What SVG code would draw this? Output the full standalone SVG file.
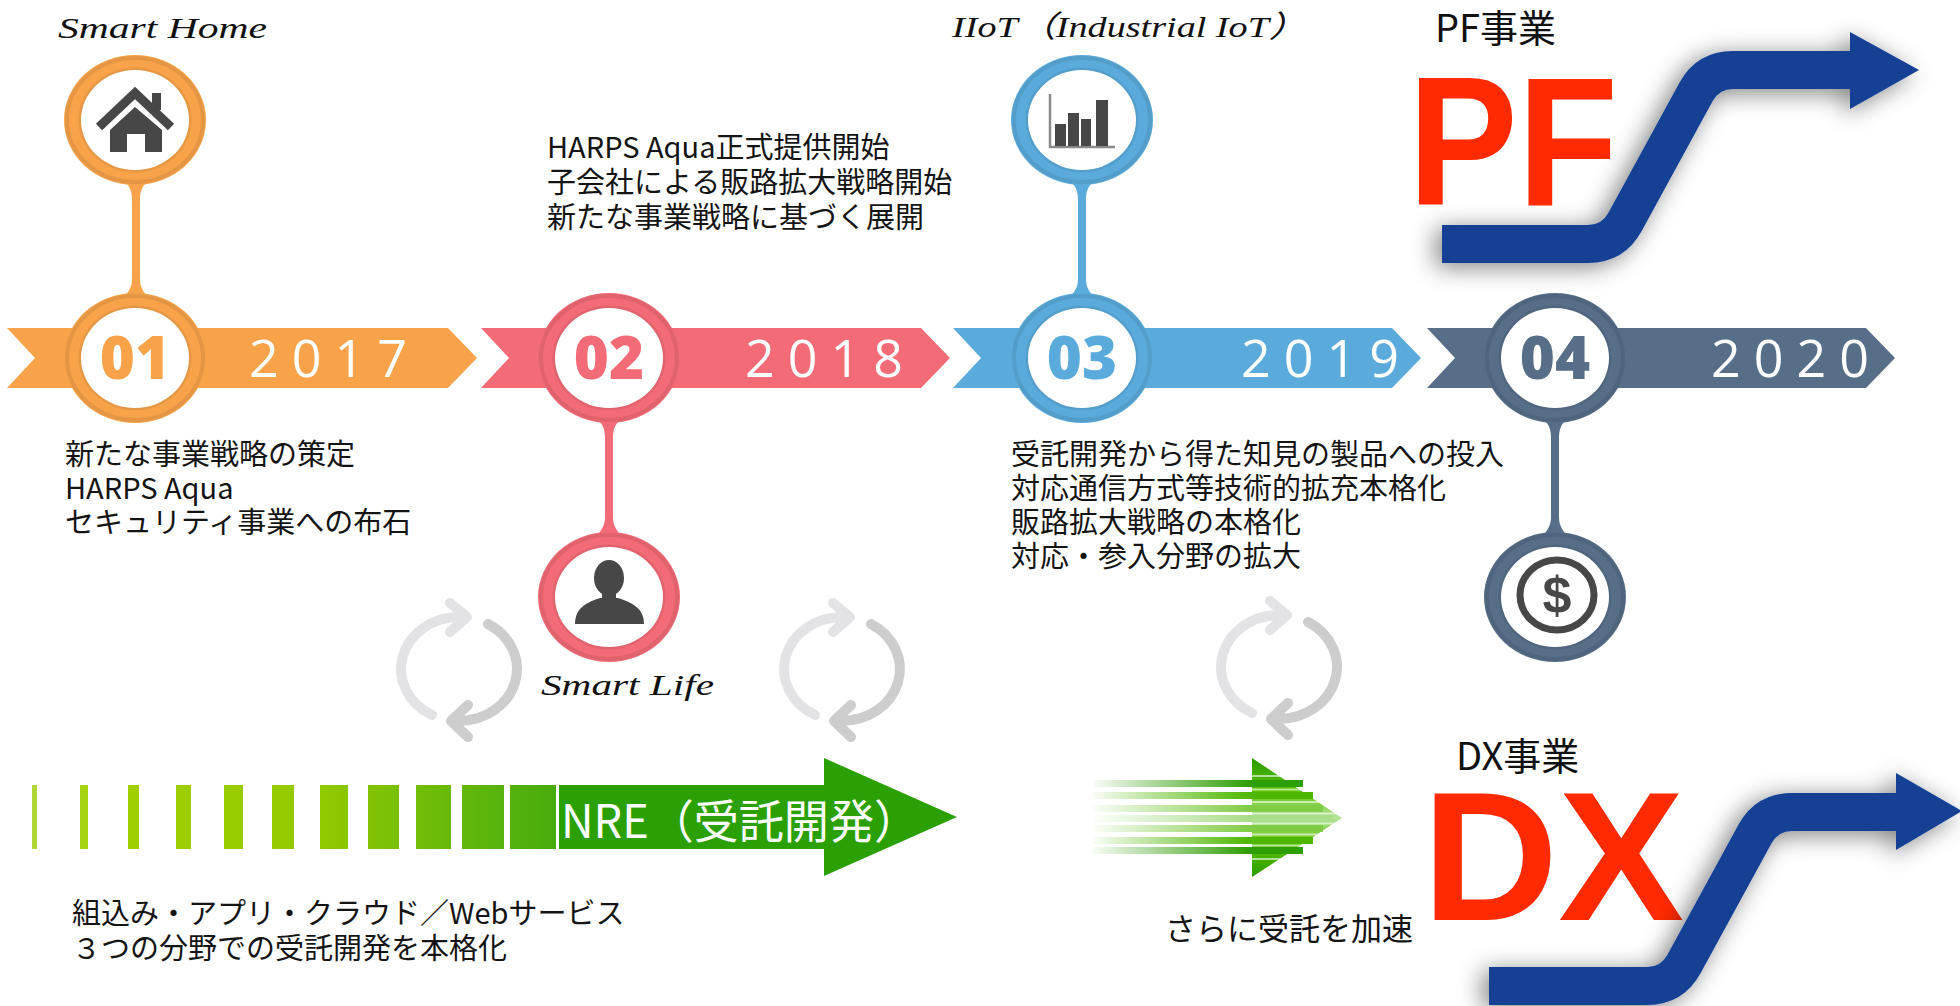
<svg xmlns="http://www.w3.org/2000/svg" width="1960" height="1006" viewBox="0 0 1960 1006">
  <defs>
    <style>
      .jp{font-family:"Noto Sans CJK JP","Noto Sans",sans-serif;font-size:29px;fill:#141414}
      .script{font-family:"Liberation Serif","DejaVu Serif","Noto Sans CJK JP",serif;font-style:italic;font-weight:400;font-size:30px;fill:#111}
      .year{font-family:"Open Sans","Liberation Sans",sans-serif;font-size:52px;letter-spacing:13px;fill:#fff}
      .num{font-family:"Open Sans","Liberation Sans",sans-serif;font-weight:800;font-size:60px;text-anchor:middle}
      .icon{fill:#474747}
      .c1{fill:#F8A34A}
      .c2{fill:#F26B76}
      .c3{fill:#5AABDB}
      .c4{fill:#566E88}
      .rim{fill:none;stroke:#000;stroke-opacity:0.08;stroke-width:4}
      .hole{fill:#fff}
      .biz{font-family:"Liberation Sans",Arial,sans-serif;font-weight:700;font-size:184px;fill:#FF2A00}
      .bizlabel{font-family:"Noto Sans CJK JP","Noto Sans",sans-serif;font-size:38px;fill:#111}
      .cyc-a{fill:none;stroke:#E3E3E5;stroke-width:10;stroke-linecap:round;stroke-linejoin:round}
      .cyc-b{fill:none;stroke:#CDCDCD;stroke-width:10;stroke-linecap:round;stroke-linejoin:round}
      .blue{fill:none;stroke:#123F94;stroke-width:38}
      .bluehead{fill:#123F94}
    </style>

    <!-- ring used for every timeline marker, centred on 0,0 -->
    <g id="ring">
      <ellipse rx="71" ry="65"/>
      <ellipse class="rim" rx="68" ry="62"/>
      <ellipse rx="56.5" ry="52.5" fill="#000" fill-opacity="0.07"/>
      <ellipse class="hole" rx="54" ry="50"/>
    </g>

    <!-- refresh / cycle glyph, centred on 0,0 -->
    <g id="cycle">
      <path class="cyc-a" d="M-27,46 A58,52 0 0 1 0,-52 M-9,-66 L8,-52 L-9,-37"/>
      <path class="cyc-b" d="M29,-45 A58,52 0 0 1 0,52 M9,36 L-8,52 L9,68"/>
    </g>

    <linearGradient id="nreGrad" gradientUnits="userSpaceOnUse" x1="30" y1="0" x2="560" y2="0">
      <stop offset="0" stop-color="#B0D83A"/>
      <stop offset="0.15" stop-color="#A2D000"/>
      <stop offset="0.55" stop-color="#92CA00"/>
      <stop offset="0.85" stop-color="#5DB50C"/>
      <stop offset="1" stop-color="#46AB0C"/>
    </linearGradient>

    <linearGradient id="headGrad" gradientUnits="userSpaceOnUse" x1="0" y1="758" x2="0" y2="877">
      <stop offset="0" stop-color="#2A9B00"/>
      <stop offset="0.28" stop-color="#5CC200"/>
      <stop offset="0.5" stop-color="#B4E39A"/>
      <stop offset="0.72" stop-color="#5CC200"/>
      <stop offset="1" stop-color="#2A9B00"/>
    </linearGradient>

    <linearGradient id="fadeLeft" gradientUnits="userSpaceOnUse" x1="1088" y1="0" x2="1250" y2="0">
      <stop offset="0" stop-color="#fff" stop-opacity="1"/>
      <stop offset="1" stop-color="#fff" stop-opacity="0"/>
    </linearGradient>

    <filter id="softShadow" x="-20%" y="-40%" width="140%" height="180%">
      <feGaussianBlur in="SourceAlpha" stdDeviation="12"/>
      <feOffset dx="-6" dy="4"/>
      <feComponentTransfer>
        <feFuncA type="linear" slope="0.5"/>
      </feComponentTransfer>
      <feMerge>
        <feMergeNode/>
        <feMergeNode in="SourceGraphic"/>
      </feMerge>
    </filter>
  </defs>

  <rect width="1960" height="1006" fill="#fff"/>

  <!-- stems joining each marker to its icon -->
  <g id="connectors">
    <path class="c1" d="M124,181 C131,187 132,193 132,201 L132,278 C132,285 131,289 124,297 L148,297 C141,289 140,285 140,278 L140,201 C140,193 141,187 148,181 Z"/>
    <path class="c2" d="M597,419 C604,425 605,431 605,439 L605,516 C605,523 604,527 597,536 L621,536 C614,527 613,523 613,516 L613,439 C613,431 614,425 621,419 Z"/>
    <path class="c3" d="M1070,181 C1077,187 1078,193 1078,201 L1078,278 C1078,285 1077,289 1070,297 L1094,297 C1087,289 1086,285 1086,278 L1086,201 C1086,193 1087,187 1094,181 Z"/>
    <path class="c4" d="M1543,419 C1550,425 1551,431 1551,439 L1551,516 C1551,523 1550,527 1543,536 L1567,536 C1560,527 1559,523 1559,516 L1559,439 C1559,431 1560,425 1567,419 Z"/>
  </g>

  <!-- 2017 : Smart Home -->
  <g id="stage-01">
    <polygon class="c1" points="7,328 448,328 477,358 448,388 7,388 35,358"/>
    <use href="#ring" class="c1" x="135" y="358"/>
    <text class="num c1" x="135" y="379">01</text>
    <text class="year" x="249" y="377">2017</text>
    <use href="#ring" class="c1" x="135" y="120"/>
    <path d="M99,127 L135,93 L171,127" fill="none" stroke="#474747" stroke-width="9"/>
    <rect class="icon" x="152" y="93" width="9" height="17"/>
    <path class="icon" d="M135,107 L162,130 L162,152 L145,152 L145,134 L127,134 L127,152 L110,152 L110,130 Z"/>
    <text class="script" x="58" y="38" textLength="209" lengthAdjust="spacingAndGlyphs">Smart Home</text>
    <text class="jp" x="65" y="465">新たな事業戦略の策定</text>
    <text class="jp" x="65" y="499">HARPS Aqua</text>
    <text class="jp" x="65" y="533">セキュリティ事業への布石</text>
  </g>

  <!-- 2018 : Smart Life -->
  <g id="stage-02">
    <polygon class="c2" points="481,328 921,328 950,358 921,388 481,388 509,358"/>
    <use href="#ring" class="c2" x="609" y="358"/>
    <text class="num c2" x="609" y="379">02</text>
    <text class="year" x="745" y="377">2018</text>
    <use href="#ring" class="c2" x="609" y="597"/>
    <ellipse class="icon" cx="609" cy="578" rx="15" ry="18"/>
    <rect class="icon" x="602" y="588" width="14" height="12"/>
    <path class="icon" d="M575,624 C575,607 588,602 600,598 L618,598 C630,602 644,607 644,624 Z"/>
    <text class="script" x="541" y="695" textLength="173" lengthAdjust="spacingAndGlyphs">Smart Life</text>
    <text class="jp" x="547" y="158">HARPS Aqua正式提供開始</text>
    <text class="jp" x="547" y="193">子会社による販路拡大戦略開始</text>
    <text class="jp" x="547" y="228">新たな事業戦略に基づく展開</text>
  </g>

  <!-- 2019 : IIoT -->
  <g id="stage-03">
    <polygon class="c3" points="953,328 1392,328 1421,358 1392,388 953,388 981,358"/>
    <use href="#ring" class="c3" x="1082" y="358"/>
    <text class="num c3" x="1082" y="379">03</text>
    <text class="year" x="1241" y="377">2019</text>
    <use href="#ring" class="c3" x="1082" y="120"/>
    <path d="M1050,94 L1050,147 L1115,147" fill="none" stroke="#8A8A8A" stroke-width="2.5"/>
    <rect class="icon" x="1055" y="124" width="11" height="22"/>
    <rect class="icon" x="1068" y="113" width="11" height="33"/>
    <rect class="icon" x="1081" y="119" width="10" height="27"/>
    <rect class="icon" x="1096" y="100" width="12" height="46"/>
    <text class="script" x="952" y="37" textLength="355" lengthAdjust="spacingAndGlyphs">IIoT（Industrial IoT）</text>
    <text class="jp" x="1011" y="465">受託開発から得た知見の製品への投入</text>
    <text class="jp" x="1011" y="499">対応通信方式等技術的拡充本格化</text>
    <text class="jp" x="1011" y="533">販路拡大戦略の本格化</text>
    <text class="jp" x="1011" y="567">対応・参入分野の拡大</text>
  </g>

  <!-- 2020 : revenue -->
  <g id="stage-04">
    <polygon class="c4" points="1427,328 1866,328 1895,358 1866,388 1427,388 1455,358"/>
    <use href="#ring" class="c4" x="1555" y="358"/>
    <text class="num c4" x="1555" y="379">04</text>
    <text class="year" x="1711" y="377">2020</text>
    <use href="#ring" class="c4" x="1555" y="597"/>
    <ellipse cx="1557" cy="595" rx="37" ry="35" fill="none" stroke="#474747" stroke-width="7"/>
    <text x="1557" y="613" text-anchor="middle" font-family="Liberation Sans,Arial,sans-serif" font-weight="700" font-size="52" fill="#474747">$</text>
  </g>

  <!-- cycle glyphs between the stages -->
  <g id="cycles">
    <use href="#cycle" transform="translate(459 669)"/>
    <use href="#cycle" transform="translate(842 669)"/>
    <use href="#cycle" transform="translate(1279 667)"/>
  </g>

  <!-- NRE arrow with widening stripes -->
  <g id="nre-arrow">
    <g fill="url(#nreGrad)">
      <rect x="32" y="785" width="5" height="64"/>
      <rect x="80" y="785" width="8" height="64"/>
      <rect x="128" y="785" width="11" height="64"/>
      <rect x="176" y="785" width="15" height="64"/>
      <rect x="224" y="785" width="19" height="64"/>
      <rect x="272" y="785" width="22" height="64"/>
      <rect x="320" y="785" width="28" height="64"/>
      <rect x="368" y="785" width="31" height="64"/>
      <rect x="416" y="785" width="35" height="64"/>
      <rect x="462" y="785" width="42" height="64"/>
      <rect x="510" y="785" width="46" height="64"/>
    </g>
    <path d="M559,785 L824,785 L824,758 L957,817 L824,876 L824,849 L559,849 Z" fill="#2BA005"/>
    <text x="561" y="838" font-family="Noto Sans CJK JP,Noto Sans,sans-serif" font-size="46" fill="#fff" textLength="358" lengthAdjust="spacingAndGlyphs">NRE（受託開発）</text>
  </g>
  <g id="nre-caption">
    <text class="jp" x="72" y="924">組込み・アプリ・クラウド／Webサービス</text>
    <text class="jp" x="72" y="959">３つの分野での受託開発を本格化</text>
  </g>

  <!-- speed arrow -->
  <g id="speed-arrow">
    <polygon points="1252,758 1342,818 1252,877" fill="url(#headGrad)"/>
    <rect x="1093" y="780" width="210" height="7" fill="#2E9E05"/>
    <rect x="1093" y="792" width="220" height="7" fill="#4DB700"/>
    <rect x="1093" y="805" width="230" height="7" fill="#80CC44"/>
    <rect x="1093" y="815" width="240" height="7" fill="#A8DE88"/>
    <rect x="1093" y="825" width="230" height="7" fill="#80CC44"/>
    <rect x="1093" y="837" width="220" height="7" fill="#4DB700"/>
    <rect x="1093" y="847" width="210" height="7" fill="#2E9E05"/>
    <g stroke="#fff" stroke-opacity="0.6" stroke-width="2">
      <line x1="1252" y1="776" x2="1290" y2="776"/>
      <line x1="1252" y1="789.5" x2="1310" y2="789.5"/>
      <line x1="1252" y1="802" x2="1325" y2="802"/>
      <line x1="1252" y1="813.5" x2="1338" y2="813.5"/>
      <line x1="1252" y1="823.5" x2="1338" y2="823.5"/>
      <line x1="1252" y1="834.5" x2="1325" y2="834.5"/>
      <line x1="1252" y1="845.5" x2="1310" y2="845.5"/>
      <line x1="1252" y1="859" x2="1290" y2="859"/>
    </g>
    <rect x="1088" y="770" width="165" height="90" fill="url(#fadeLeft)"/>
  </g>
  <text class="jp" x="1165" y="940" style="font-size:31px">さらに受託を加速</text>

  <!-- platform business -->
  <g id="pf-business">
    <text class="bizlabel" x="1435" y="42">PF事業</text>
    <text class="biz" x="1408" y="205" textLength="210" lengthAdjust="spacingAndGlyphs">PF</text>
    <g filter="url(#softShadow)">
      <path class="blue" d="M1442,244 L1588,244 Q1613,244 1625,222 L1696,92 Q1708,70 1733,70 L1855,70"/>
      <polygon class="bluehead" points="1850,32 1919,70 1850,109"/>
    </g>
  </g>

  <!-- DX business -->
  <g id="dx-business">
    <text class="bizlabel" x="1456" y="770">DX事業</text>
    <text class="biz" x="1422" y="920" textLength="262" lengthAdjust="spacingAndGlyphs">DX</text>
    <g filter="url(#softShadow)">
      <path class="blue" d="M1489,986 L1647,986 Q1672,986 1684,964 L1755,834 Q1767,812 1792,812 L1900,812"/>
      <polygon class="bluehead" points="1896,773 1962,811 1896,850"/>
    </g>
  </g>
</svg>
